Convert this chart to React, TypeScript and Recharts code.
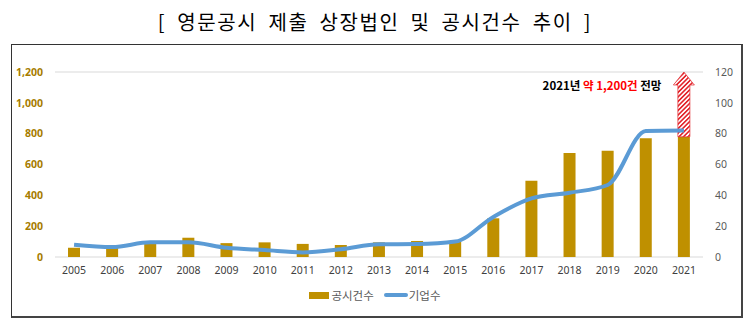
import React from "react";
import {
  ComposedChart,
  Bar,
  Line,
  XAxis,
  YAxis,
  CartesianGrid,
  Legend,
} from "recharts";

const years = [
  "2005", "2006", "2007", "2008", "2009", "2010", "2011", "2012", "2013",
  "2014", "2015", "2016", "2017", "2018", "2019", "2020", "2021",
];
const filings = [60, 62, 100, 125, 90, 95, 85, 78, 95, 104, 100, 251, 495, 675, 690, 770, 780];
const companies = [8, 6.5, 9.5, 9.5, 6, 4.5, 3, 5, 8.2, 8.4, 10, 26, 38, 41.7, 46.7, 81.7, 82];
// 2021 outlook: about 1,200 filings
const outlook = [null, null, null, null, null, null, null, null, null, null, null, null, null, null, null, null, 1200];
const leftTicks = [0, 200, 400, 600, 800, 1000, 1200];
const rightTicks = [0, 20, 40, 60, 80, 100, 120];

const data = years.map((year, i) => ({
  year,
  filings: filings[i],
  companies: companies[i],
  outlookExtra: outlook[i] != null ? (outlook[i] as number) - filings[i] : null,
}));

const FONT = "'Noto Sans', 'Noto Sans CJK KR', sans-serif";
const KFONT = "'Noto Sans CJK KR', sans-serif";

function OutlookArrow(props: any) {
  const { x, y, width, height } = props;
  if (!height || height <= 0) return null;
  const head = 13;
  const cx = x + width / 2;
  const hw = width / 2 + 4.5;
  const sw = width / 2;
  const d = [
    `M${cx},${y}`,
    `L${cx + hw},${y + head}`,
    `L${cx + sw},${y + head}`,
    `L${cx + sw},${y + height}`,
    `L${cx - sw},${y + height}`,
    `L${cx - sw},${y + head}`,
    `L${cx - hw},${y + head}`,
    "Z",
  ].join(" ");
  return (
    <g>
      <path d={d} fill="url(#hatch)" stroke="#E3262D" strokeWidth={0.7} />
      <text
        x={cx - hw - 12}
        y={y + 18}
        textAnchor="end"
        fontFamily={KFONT}
        fontSize={11.5}
        fontWeight={700}
        fill="#000"
      >
        2021년 <tspan fill="#FF0000">약 1,200건</tspan> 전망
      </text>
    </g>
  );
}

function LegendContent() {
  return (
    <div
      style={{
        display: "flex",
        justifyContent: "center",
        alignItems: "center",
        fontFamily: KFONT,
        fontSize: 11.5,
        color: "#595959",
      }}
    >
      <span style={{ width: 20, height: 7, background: "#BF9000", marginRight: 2 }} />
      <span style={{ marginRight: 10 }}>공시건수</span>
      <span style={{ width: 24, height: 4, borderRadius: 2, background: "#5B9BD5", marginRight: 1 }} />
      <span>기업수</span>
    </div>
  );
}

export default function App() {
  return (
    <div
      style={{
        position: "absolute",
        left: 0,
        top: 0,
        width: 750,
        height: 325,
        background: "#fff",
      }}
    >
      <div
        style={{
          position: "absolute",
          top: 7,
          width: 750,
          textAlign: "center",
          fontFamily: KFONT,
          fontSize: 20,
          color: "#000",
          letterSpacing: 1.6,
          wordSpacing: 5,
        }}
      >
        [ 영문공시 제출 상장법인 및 공시건수 추이 ]
      </div>
      <div
        style={{
          position: "absolute",
          left: 11,
          top: 44,
          width: 729,
          height: 271,
          borderTop: "1px solid #333",
          borderLeft: "1px solid #333",
          borderRight: "2px solid #444",
          borderBottom: "2px solid #444",
        }}
      />
      <div style={{ position: "absolute", left: 0, top: 0 }}>
        <ComposedChart
          width={750}
          height={325}
          data={data}
          margin={{ top: 72, right: 0, bottom: 14, left: 0 }}
          barCategoryGap={0}
        >
          <defs>
            <pattern
              id="hatch"
              patternUnits="userSpaceOnUse"
              width={3.2}
              height={3.2}
              patternTransform="rotate(45)"
            >
              <rect width={3.2} height={3.2} fill="#fff" />
              <rect width={1.6} height={3.2} fill="#E3262D" />
            </pattern>
          </defs>
          <CartesianGrid vertical={false} stroke="#D9D9D9" strokeWidth={1.2} />
          <XAxis
            dataKey="year"
            axisLine={false}
            tickLine={false}
            tickSize={0}
            tickMargin={10}
            height={30}
            interval={0}
            tick={{ fontFamily: FONT, fontSize: 10.5, fill: "#404040" }}
          />
          <YAxis
            yAxisId="left"
            width={55}
            domain={[0, 1200]}
            ticks={leftTicks}
            axisLine={false}
            tickLine={false}
            tickSize={0}
            tickMargin={12}
            tickFormatter={(v: number) => v.toLocaleString("en-US")}
            tick={{ fontFamily: FONT, fontSize: 10.5, fontWeight: 700, fill: "#A67C00" }}
          />
          <YAxis
            yAxisId="right"
            orientation="right"
            width={47}
            domain={[0, 120]}
            ticks={rightTicks}
            axisLine={false}
            tickLine={false}
            tickSize={0}
            tickMargin={12}
            tick={{ fontFamily: FONT, fontSize: 10.5, fill: "#595959" }}
          />
          <Bar
            yAxisId="left"
            dataKey="filings"
            name="공시건수"
            stackId="a"
            fill="#BF9000"
            barSize={12}
            isAnimationActive={false}
          />
          <Bar
            yAxisId="left"
            dataKey="outlookExtra"
            stackId="a"
            barSize={12}
            shape={OutlookArrow}
            legendType="none"
            isAnimationActive={false}
          />
          <Line
            yAxisId="right"
            type="monotone"
            dataKey="companies"
            name="기업수"
            stroke="#5B9BD5"
            strokeWidth={4}
            dot={false}
            activeDot={false}
            isAnimationActive={false}
          />
          <Legend verticalAlign="bottom" height={24} content={LegendContent} />
        </ComposedChart>
      </div>
    </div>
  );
}
